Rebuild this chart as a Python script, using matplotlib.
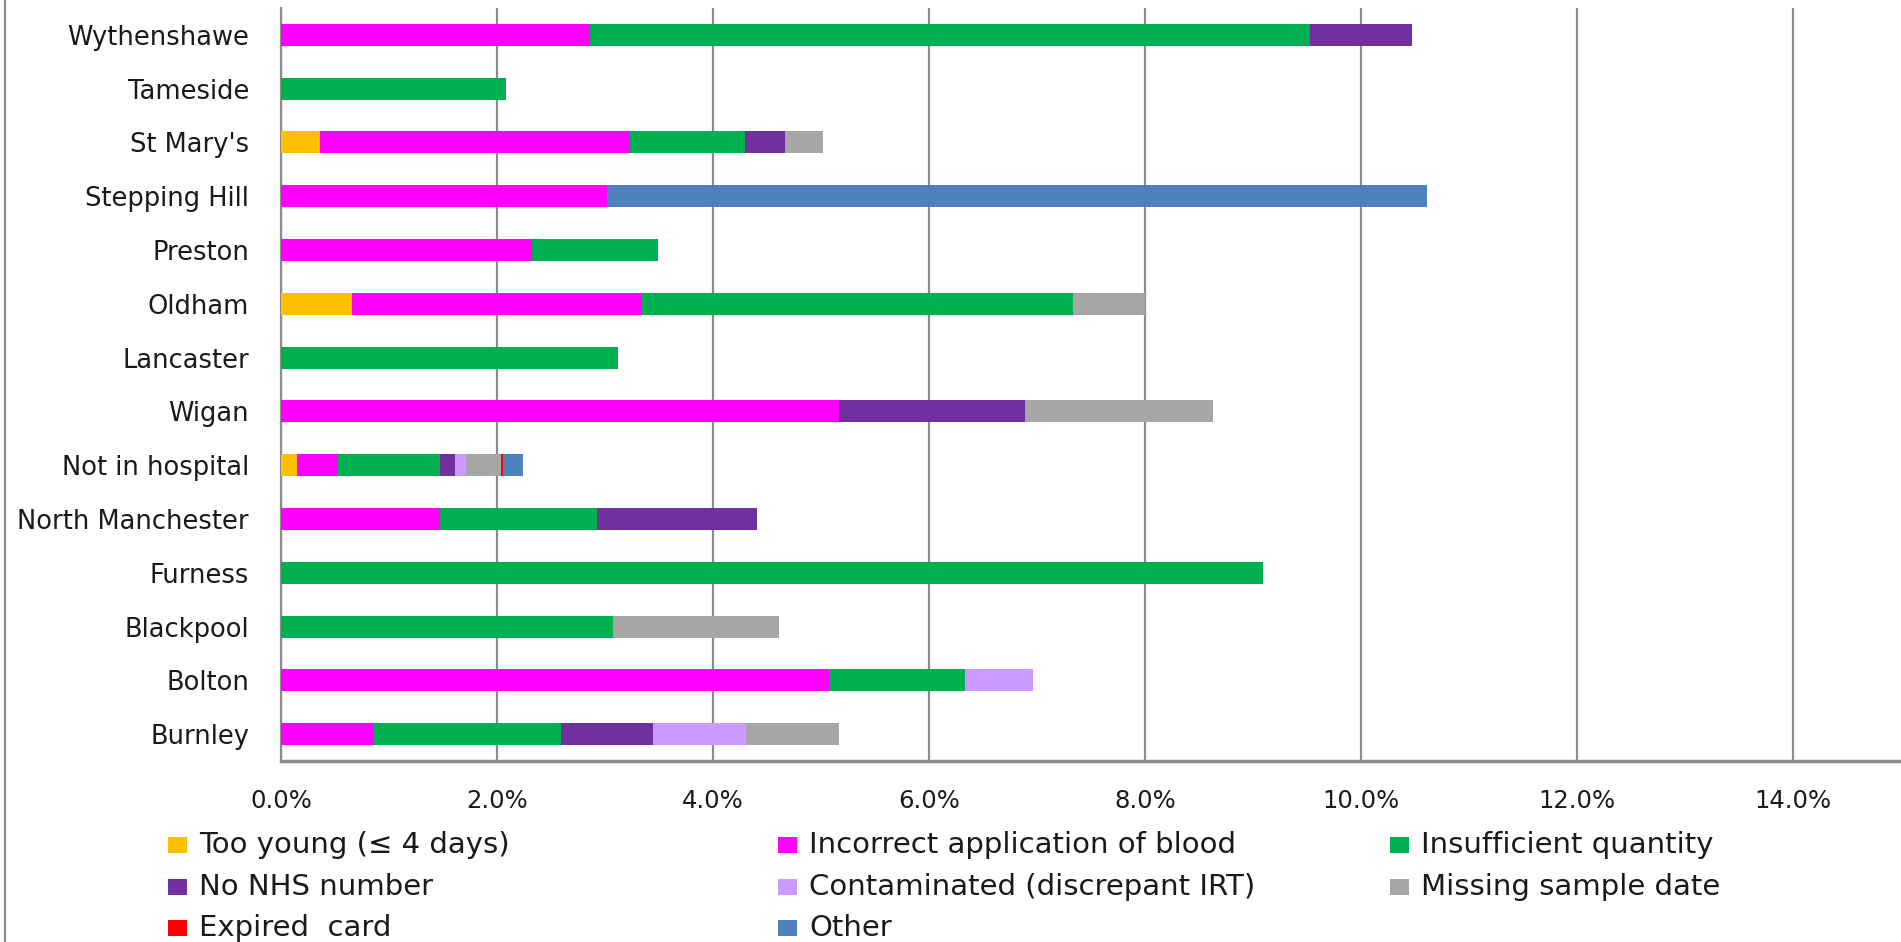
import matplotlib
matplotlib.use("Agg")
import matplotlib.pyplot as plt
from matplotlib.patches import Rectangle
from matplotlib.lines import Line2D
from matplotlib.ticker import FuncFormatter, MultipleLocator
import numpy as np

plt.rcParams['font.family'] = ['DejaVu Sans']

# Hospitals, top to bottom
hospitals = ["Wythenshawe", "Tameside", "St Mary's", "Stepping Hill", "Preston",
             "Oldham", "Lancaster", "Wigan", "Not in hospital", "North Manchester",
             "Furness", "Blackpool", "Bolton", "Burnley"]

# Rejection reasons (percent of samples) per hospital, same order as above
too_young      = [0.00, 0.00, 0.36, 0.00, 0.00, 0.66, 0.00, 0.00, 0.145, 0.00, 0.00, 0.00, 0.00, 0.00]
incorrect_app  = [2.86, 0.00, 2.87, 3.02, 2.32, 2.67, 0.00, 5.17, 0.375, 1.47, 0.00, 0.00, 5.07, 0.85]
insufficient   = [6.67, 2.08, 1.07, 0.00, 1.17, 4.00, 3.12, 0.00, 0.95, 1.46, 9.09, 3.07, 1.26, 1.74]
no_nhs         = [0.94, 0.00, 0.37, 0.00, 0.00, 0.00, 0.00, 1.72, 0.14, 1.48, 0.00, 0.00, 0.00, 0.85]
contaminated   = [0.00, 0.00, 0.00, 0.00, 0.00, 0.00, 0.00, 0.00, 0.10, 0.00, 0.00, 0.00, 0.63, 0.87]
missing_date   = [0.00, 0.00, 0.35, 0.00, 0.00, 0.67, 0.00, 1.74, 0.33, 0.00, 0.00, 1.54, 0.00, 0.86]
expired_card   = [0.00, 0.00, 0.00, 0.00, 0.00, 0.00, 0.00, 0.00, 0.02, 0.00, 0.00, 0.00, 0.00, 0.00]
other          = [0.00, 0.00, 0.00, 7.59, 0.00, 0.00, 0.00, 0.00, 0.18, 0.00, 0.00, 0.00, 0.00, 0.00]

series_labels = ["Too young (\u2264 4 days)", "Incorrect application of blood",
                 "Insufficient quantity", "No NHS number",
                 "Contaminated (discrepant IRT)", "Missing sample date",
                 "Expired  card", "Other"]
series_values = [too_young, incorrect_app, insufficient, no_nhs,
                 contaminated, missing_date, expired_card, other]
series_colors = ["#FFC000", "#FF00FF", "#00B050", "#7030A0",
                 "#CC99FF", "#A6A6A6", "#FF0000", "#4F81BD"]

W, H = 1901, 942
fig = plt.figure(figsize=(W / 100, H / 100), dpi=100)
ax = fig.add_axes([281 / W, 1 - 761 / H, 1 - 281 / W, (761 - 8) / H])

y = np.arange(len(hospitals))
left = np.zeros(len(hospitals))
for vals, col in zip(series_values, series_colors):
    v = np.array(vals) / 100.0
    ax.barh(y, v, left=left, height=0.41, color=col, edgecolor='none', zorder=3)
    left += v

ax.set_ylim(len(hospitals) - 0.5, -0.5)
ax.set_xlim(0, 0.15)
ax.xaxis.set_major_locator(MultipleLocator(0.02))
ax.xaxis.set_major_formatter(FuncFormatter(lambda v, p: f"{v * 100:.1f}%"))
ax.grid(axis='x', color='#8C8C8C', linewidth=1.6, zorder=0)
ax.set_yticks(y)
ax.set_yticklabels(hospitals)

for s in ['top', 'right']:
    ax.spines[s].set_visible(False)
ax.spines['left'].set_color('#8C8C8C')
ax.spines['left'].set_linewidth(1.6)
ax.spines['bottom'].set_color('#8C8C8C')
ax.spines['bottom'].set_linewidth(2.5)

ax.tick_params(axis='y', length=0, pad=23, labelsize=18.5, labelcolor='#1a1a1a')
ax.tick_params(axis='x', length=0, pad=20, labelsize=17.5, labelcolor='#1a1a1a')

# Legend laid out row by row in three columns
col_x = [168, 778, 1390]
row_y = [845, 887, 928]
for i, (lab, col) in enumerate(zip(series_labels, series_colors)):
    r, c = divmod(i, 3)
    x0, y0 = col_x[c], row_y[r]
    fig.patches.append(Rectangle((x0 / W, 1 - (y0 + 8) / H), 19 / W, 16 / H,
                                 transform=fig.transFigure, facecolor=col,
                                 edgecolor='none'))
    fig.text((x0 + 31) / W, 1 - y0 / H, lab, fontsize=21, color='#1a1a1a',
             ha='left', va='center')

# Chart area border on the left
fig.add_artist(Line2D([5 / W, 5 / W], [0, 1], transform=fig.transFigure,
                      color='#8C8C8C', linewidth=1.6))

fig.savefig("out.png", dpi=100)
